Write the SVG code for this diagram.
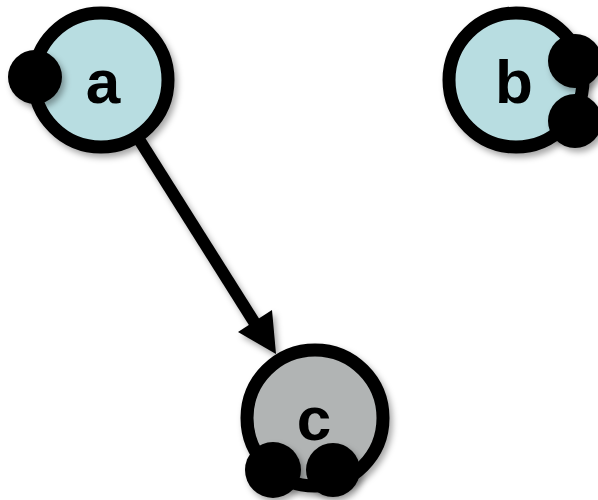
<svg xmlns="http://www.w3.org/2000/svg" width="598" height="500" viewBox="0 0 598 500">
<defs>
<filter id="sh" x="-20%" y="-20%" width="150%" height="150%">
<feDropShadow dx="3" dy="4" stdDeviation="3" flood-color="#000" flood-opacity="0.35"/>
</filter>
<style>
.ring{stroke:#000;stroke-width:13;filter:url(#sh)}
.blue{fill:#b8dde1}
.gray{fill:#b1b4b4}
.dot{fill:#000;filter:url(#sh)}
.lbl{font-family:"Liberation Sans",Arial,sans-serif;font-weight:bold;font-size:62px;fill:#000;text-anchor:middle}
.edge{stroke:#000;stroke-width:12;fill:none}
</style>
</defs>
<rect width="598" height="500" fill="#fff"/>
<g id="edges" filter="url(#sh)">
<line class="edge" x1="140" y1="141" x2="256" y2="325"/>
<polygon points="276,354 272,310 238,332" fill="#000"/>
</g>
<g id="node-a">
<circle class="ring blue" cx="101" cy="80" r="67"/>
<circle class="dot" cx="35" cy="77" r="27"/>
<text class="lbl" x="103" y="103">a</text>
</g>
<g id="node-b">
<circle class="ring blue" cx="516" cy="80" r="67"/>
<circle class="dot" cx="575" cy="61" r="27"/>
<circle class="dot" cx="575" cy="121" r="27"/>
<text class="lbl" x="514" y="103">b</text>
</g>
<g id="node-c">
<circle class="ring gray" cx="315" cy="418" r="68"/>
<circle class="dot" cx="273" cy="470" r="28"/>
<circle class="dot" cx="333" cy="470" r="27"/>
<text class="lbl" x="314" y="440">c</text>
</g>
</svg>
